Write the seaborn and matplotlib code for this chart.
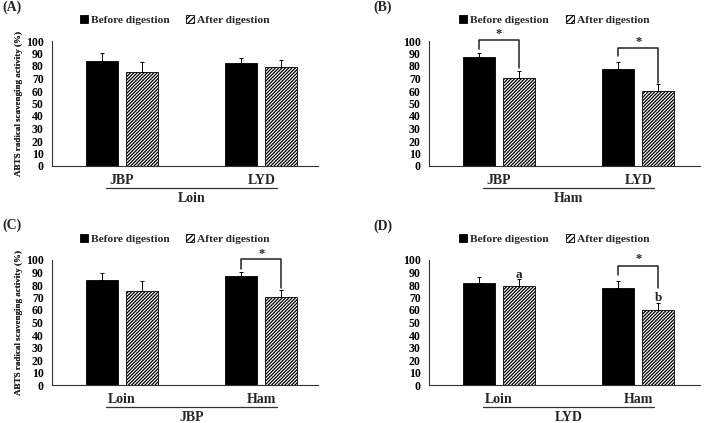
import matplotlib
matplotlib.use("Agg")
import matplotlib.pyplot as plt
import seaborn as sns
import pandas as pd
from matplotlib.patches import Patch

sns.set_theme(style="white")
plt.rcParams['font.family'] = ['Liberation Serif', 'DejaVu Serif']
plt.rcParams['font.weight'] = 'bold'
plt.rcParams['hatch.linewidth'] = 0.9

treatments = ["Before digestion", "After digestion"]

# Panel A: Loin
a_groups = ["JBP", "LYD"]
a_before = [84.0, 82.0]
a_before_err = [6.0, 4.5]
a_after = [75.0, 79.0]
a_after_err = [8.0, 5.5]

# Panel B: Ham
b_groups = ["JBP", "LYD"]
b_before = [87.0, 77.3]
b_before_err = [3.5, 6.0]
b_after = [70.4, 60.0]
b_after_err = [5.5, 5.5]

# Panel C: JBP
c_groups = ["Loin", "Ham"]
c_before = [84.0, 87.0]
c_before_err = [6.0, 3.5]
c_after = [75.0, 70.4]
c_after_err = [8.0, 5.5]

# Panel D: LYD
d_groups = ["Loin", "Ham"]
d_before = [82.0, 77.3]
d_before_err = [4.5, 6.0]
d_after = [79.0, 60.0]
d_after_err = [5.5, 5.5]

HATCH = "//////////"

panels = [
    dict(label="(A)", title="Loin", groups=a_groups, before=a_before, before_err=a_before_err,
         after=a_after, after_err=a_after_err,
         brackets=[], letters=[]),
    dict(label="(B)", title="Ham", groups=b_groups, before=b_before, before_err=b_before_err,
         after=b_after, after_err=b_after_err,
         brackets=[(0, 101.0, 93.6, 78.0, 106.0), (1, 94.6, 88.0, 66.0, 99.5)], letters=[]),
    dict(label="(C)", title="JBP", groups=c_groups, before=c_before, before_err=c_before_err,
         after=c_after, after_err=c_after_err,
         brackets=[(1, 100.5, 93.0, 78.0, 104.5)], letters=[]),
    dict(label="(D)", title="LYD", groups=d_groups, before=d_before, before_err=d_before_err,
         after=d_after, after_err=d_after_err,
         brackets=[(1, 95.5, 88.0, 77.8, 100.5)], letters=[(0, 88.0, "a"), (1, 69.6, "b")]),
]

W, H = 709, 423
fig = plt.figure(figsize=(W / 100, H / 100), dpi=100)

# axes rectangles in pixels: left, right, top(100), bottom(0)
rects = [(52, 318, 41, 166), (429, 700, 41, 166), (52, 318, 260, 385), (429, 700, 260, 385)]
label_pos = [(2, 7), (373, 7), (2, 225), (373, 226)]

for p, (l, r, t, b), (lx, ly) in zip(panels, rects, label_pos):
    ax = fig.add_axes([l / W, 1 - b / H, (r - l) / W, (b - t) / H])
    df = pd.DataFrame({
        "group": p["groups"] * 2,
        "treatment": [treatments[0]] * 2 + [treatments[1]] * 2,
        "value": p["before"] + p["after"],
    })
    sns.barplot(data=df, x="group", y="value", hue="treatment", order=p["groups"],
                hue_order=treatments, palette=["black", "white"], width=0.575, gap=0.2,
                edgecolor="black", linewidth=0.6, errorbar=None, legend=False, ax=ax)
    for bar in ax.containers[1]:
        bar.set_hatch(HATCH)
        bar.set_facecolor("white")
        bar.set_edgecolor("black")
    errs = [p["before_err"], p["after_err"]]
    centers = []
    for cont, err in zip(ax.containers, errs):
        xs = [bar.get_x() + bar.get_width() / 2 for bar in cont]
        hs = [bar.get_height() for bar in cont]
        centers.append(xs)
        ax.errorbar(xs, hs, yerr=[[0] * len(err), err], fmt="none", ecolor="black",
                    elinewidth=0.7, capsize=1.5, capthick=0.7)
    ax.set_ylim(0, 100)
    ax.set_xlim(-0.5, (r - l) / 139.5 - 0.5)
    ax.set_yticks(range(0, 101, 10))
    ax.tick_params(axis="y", direction="out", length=3, width=0.7, labelsize=8.5, pad=3,
                   colors="black")
    ax.tick_params(axis="x", length=0, labelsize=10, pad=6)
    for lab in ax.get_xticklabels() + ax.get_yticklabels():
        lab.set_fontweight("bold")
    for s in ["top", "right"]:
        ax.spines[s].set_visible(False)
    for s in ["left", "bottom"]:
        ax.spines[s].set_color("#333333")
        ax.spines[s].set_linewidth(0.8)
    ax.set_xlabel("")
    ax.set_ylabel("ABTS radical scavenging activity (%)", fontsize=6.5, fontweight="bold")
    ax.yaxis.set_label_coords(-(l - 23) / (r - l), 0.5)

    # group underline + title
    trans = ax.get_xaxis_transform()
    ax.plot([-0.11, 1.11], [-0.176, -0.176], color="#333333", lw=0.9, transform=trans,
            clip_on=False)
    ax.text(0.5, -0.258, p["title"], transform=trans, ha="center", va="center",
            fontsize=10, fontweight="bold")

    # legend
    handles = [Patch(facecolor="black", edgecolor="black", linewidth=0.6),
               Patch(facecolor="white", edgecolor="black", hatch="//////", linewidth=0.6)]
    ax.legend(handles, treatments, loc="center", bbox_to_anchor=(0.462, 1.168), ncol=2,
              frameon=False, handlelength=0.7, handleheight=0.7,
              handletextpad=0.25, columnspacing=1.5, borderpad=0,
              prop=dict(weight="bold", size=8.2))

    # significance brackets
    for gi, top, lb, rb, sy in p["brackets"]:
        x0, x1 = centers[0][gi], centers[1][gi]
        ax.plot([x0, x0, x1, x1], [lb, top, top, rb], color="#222222", lw=1.1,
                clip_on=False)
        ax.text((x0 + x1) / 2, sy, "*", ha="center", va="center", fontsize=9,
                fontweight="bold")
    for gi, y, txt in p["letters"]:
        ax.text(centers[1][gi], y, txt, ha="center", va="center", fontsize=9.5,
                fontweight="bold")

    fig.text(lx / W, 1 - ly / H, p["label"], ha="left", va="center", fontsize=10,
             fontweight="bold")

fig.savefig("out.png", dpi=100)
